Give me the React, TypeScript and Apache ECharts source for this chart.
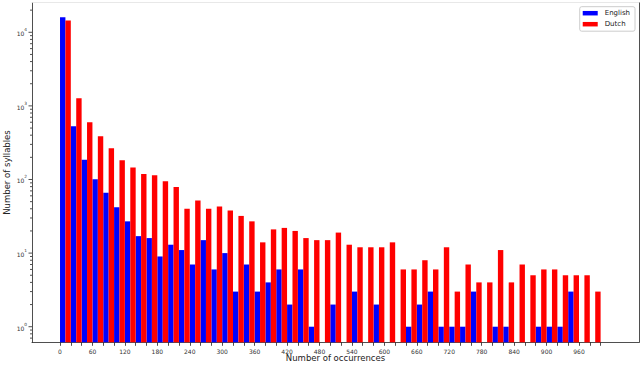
import React, { useEffect, useRef } from "react";
import * as echarts from "echarts";

const binStarts = [
  0, 20, 40, 60, 80, 100, 120, 140, 160, 180,
  200, 220, 240, 260, 280, 300, 320, 340, 360, 380,
  400, 420, 440, 460, 480, 500, 520, 540, 560, 580,
  600, 620, 640, 660, 680, 700, 720, 740, 760, 780,
  800, 820, 840, 860, 880, 900, 920, 940, 960, 980,
];
const binWidth = 20;

const english = [
  16000, 530, 186, 101, 66, 42, 27, 17, 16, 9,
  13, 11, 7, 15, 6, 10, 3, 7, 3, 4,
  6, 2, 6, 1, 0, 2, 0, 3, 0, 2,
  0, 0, 1, 2, 3, 1, 1, 1, 3, 0,
  1, 1, 0, 0, 1, 1, 1, 3, 0, 0,
];
const dutch = [
  14500, 1270, 600, 386, 265, 182, 146, 119, 114, 95,
  79, 40, 52, 40, 43, 38, 32, 27, 14, 21,
  22, 20, 16, 15, 15, 19, 13, 12, 12, 12,
  14, 6, 6, 8, 6, 12, 3, 7, 4, 4,
  11, 4, 7, 5, 6, 6, 5, 5, 5, 3,
];

const xTickValues = [
  0, 20, 40, 60, 80, 100, 120, 140, 160, 180,
  200, 220, 240, 260, 280, 300, 320, 340, 360, 380,
  400, 420, 440, 460, 480, 500, 520, 540, 560, 580,
  600, 620, 640, 660, 680, 700, 720, 740, 760, 780,
  800, 820, 840, 860, 880, 900, 920, 940, 960, 980, 1000,
];
const xLabelValues = [
  0, 60, 120, 180, 240, 300, 360, 420, 480, 540, 600, 660, 720, 780, 840, 900, 960,
];
const yMajorTicks = [1, 10, 100, 1000, 10000];
const yMinorTicks = [
  0.7, 0.8, 0.9,
  2, 3, 4, 5, 6, 7, 8, 9,
  20, 30, 40, 50, 60, 70, 80, 90,
  200, 300, 400, 500, 600, 700, 800, 900,
  2000, 3000, 4000, 5000, 6000, 7000, 8000, 9000,
  20000,
];

const X_MIN = -51.8;
const X_MAX = 1071;
const Y_MIN = 0.614;
const Y_MAX = 25230;

const FONT = "DejaVu Sans";
const AXIS_COLOR = "#222";

function toBarData(values: number[]) {
  const out: number[][] = [];
  values.forEach((v, i) => {
    if (v > 0) out.push([binStarts[i] + binWidth / 2, v]);
  });
  return out;
}

export default function App() {
  const ref = useRef<HTMLDivElement>(null);

  useEffect(() => {
    document.body.style.margin = "0";
    if (!ref.current) return;
    const chart = echarts.init(ref.current, undefined, { renderer: "svg" });

    const tickSeries = (values: number[], len: number, name: string) => ({
      type: "custom",
      name,
      xAxisIndex: 0,
      yAxisIndex: 0,
      clip: false,
      silent: true,
      data: values.map((v) => [0, v]),
      renderItem: (params: any, api: any) => {
        const y = api.coord([0, api.value(1)])[1];
        const x = params.coordSys.x;
        return {
          type: "line",
          shape: { x1: x - len, y1: y, x2: x, y2: y },
          style: { stroke: AXIS_COLOR, lineWidth: 0.8 },
        };
      },
    });

    chart.setOption({
      animation: false,
      backgroundColor: "#fff",
      grid: {
        left: 32,
        right: 1,
        top: 2.7,
        bottom: 22.7,
        containLabel: false,
        outerBoundsMode: "none",
      },
      legend: {
        data: ["English", "Dutch"],
        orient: "vertical",
        right: 5,
        top: 6.7,
        itemWidth: 15,
        itemHeight: 4.5,
        itemGap: 2,
        icon: "rect",
        padding: [2, 5, 2.5, 3],
        borderColor: "#ccc",
        borderWidth: 1,
        borderRadius: 2,
        backgroundColor: "#fff",
        textStyle: {
          fontFamily: FONT,
          fontSize: 7,
          color: "#222",
          lineHeight: 9,
          padding: [0, 0, 0, 2],
        },
      },
      xAxis: [
        {
          type: "value",
          min: X_MIN,
          max: X_MAX,
          name: "Number of occurrences",
          nameLocation: "middle",
          nameGap: 11.5,
          nameMoveOverlap: false,
          nameTextStyle: { fontFamily: FONT, fontSize: 8.5, color: "#222" },
          splitLine: { show: false },
          axisLine: { show: true, onZero: false, lineStyle: { color: AXIS_COLOR, width: 0.8 } },
          axisTick: {
            show: true,
            length: 3.5,
            customValues: xTickValues,
            lineStyle: { color: AXIS_COLOR, width: 0.8 },
          },
          axisLabel: {
            show: true,
            customValues: xLabelValues,
            margin: 6,
            fontFamily: FONT,
            fontSize: 6,
            color: "#333",
          },
        },
        {
          type: "value",
          position: "top",
          min: X_MIN,
          max: X_MAX,
          splitLine: { show: false },
          axisLine: { show: true, onZero: false, lineStyle: { color: "#e2e2e2", width: 0.8 } },
          axisTick: { show: false },
          axisLabel: { show: false },
        },
      ],
      yAxis: [
        {
          type: "log",
          min: Y_MIN,
          max: Y_MAX,
          startValue: Y_MIN,
          name: "Number of syllables",
          nameLocation: "middle",
          nameGap: 21,
          nameMoveOverlap: false,
          nameTextStyle: { fontFamily: FONT, fontSize: 8.5, color: "#222" },
          splitLine: { show: false },
          axisLine: { show: true, onZero: false, lineStyle: { color: AXIS_COLOR, width: 0.8 } },
          axisTick: { show: false },
          axisLabel: {
            show: true,
            showMinLabel: false,
            showMaxLabel: false,
            margin: 5,
            formatter: (v: number) => {
              const e = Math.round(Math.log10(v));
              return "{b|10}{s|" + e + "}";
            },
            rich: {
              b: { fontFamily: FONT, fontSize: 6, color: "#333", lineHeight: 9, verticalAlign: "bottom" },
              s: { fontFamily: FONT, fontSize: 4.3, color: "#333", lineHeight: 6, verticalAlign: "top" },
            },
          },
        },
        {
          type: "log",
          position: "right",
          min: Y_MIN,
          max: Y_MAX,
          splitLine: { show: false },
          axisLine: { show: true, onZero: false, lineStyle: { color: AXIS_COLOR, width: 0.8 } },
          axisTick: { show: false },
          axisLabel: { show: false },
        },
      ],
      series: [
        {
          name: "English",
          type: "bar",
          xAxisIndex: 0,
          yAxisIndex: 0,
          barWidth: 5.4,
          barGap: "0%",
          itemStyle: { color: "#0000ff" },
          data: toBarData(english),
        },
        {
          name: "Dutch",
          type: "bar",
          xAxisIndex: 0,
          yAxisIndex: 0,
          barWidth: 5.4,
          barGap: "0%",
          itemStyle: { color: "#ff0000" },
          data: toBarData(dutch),
        },
        tickSeries(yMajorTicks, 3.5, "majorTicks"),
        tickSeries(yMinorTicks, 2, "minorTicks"),
      ],
    });

    return () => chart.dispose();
  }, []);

  return <div ref={ref} style={{ width: 640, height: 365 }} />;
}
